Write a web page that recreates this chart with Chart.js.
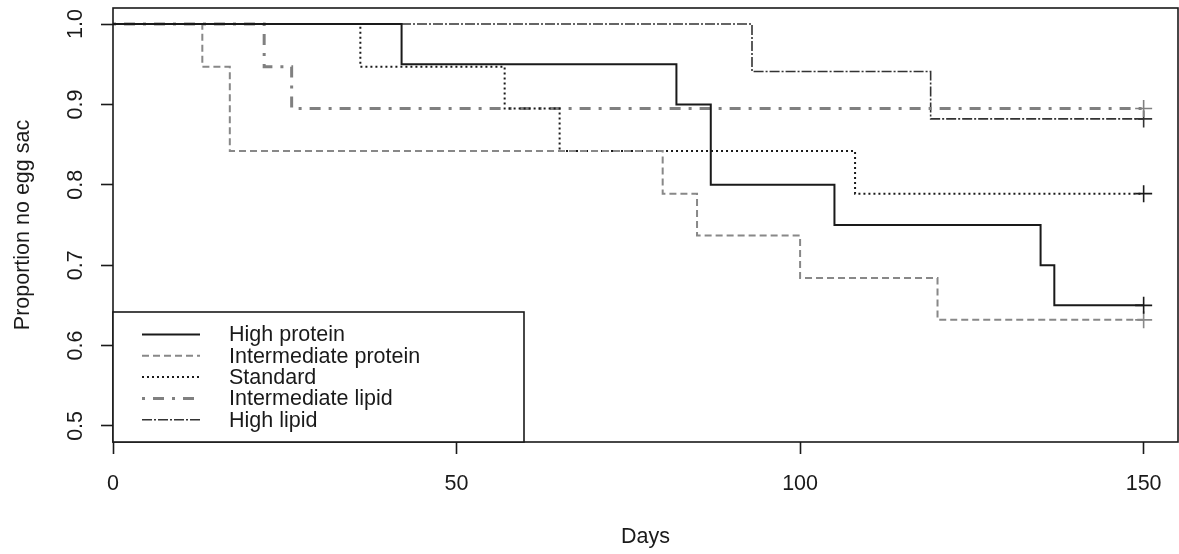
<!DOCTYPE html>
<html>
<head>
<meta charset="utf-8">
<script src="https://cdn.jsdelivr.net/npm/chart.js@4/dist/chart.umd.min.js"></script>
<style>
  html, body { margin: 0; padding: 0; background: #fff; }
  #wrap { width: 1179px; height: 554px; }
</style>
</head>
<body>
<div id="wrap"><canvas id="km" width="1179" height="554"></canvas></div>
<script>
// Kaplan-Meier steps (days, proportion with no egg sac)
const groupNames = ['High protein', 'Intermediate protein', 'Standard', 'Intermediate lipid', 'High lipid'];

const hpDays = [0, 42, 82, 87, 105, 135, 137, 150];
const hpSurv = [1, 0.95, 0.90, 0.80, 0.75, 0.70, 0.65, 0.65];

const ipDays = [0, 13, 17, 80, 85, 100, 120, 150];
const ipSurv = [1, 0.947, 0.842, 0.789, 0.737, 0.684, 0.632, 0.632];

const stDays = [0, 36, 57, 65, 108, 150];
const stSurv = [1, 0.947, 0.895, 0.842, 0.789, 0.789];

const ilDays = [0, 22, 26, 150];
const ilSurv = [1, 0.947, 0.895, 0.895];

const hlDays = [0, 93, 119, 150];
const hlSurv = [1, 0.941, 0.882, 0.882];

const xTicks = [0, 50, 100, 150];
const yTicks = [0.5, 0.6, 0.7, 0.8, 0.9, 1.0];

const FONT = '"Liberation Sans", Arial, sans-serif';
const FSIZE = 21.5;
const INK = '#1a1a1a';

function pts(days, surv) {
    return days.map((d, i) => ({ x: d, y: surv[i] }));
}

// censor mark (+) only on the last point
function censor(ctx) {
    return ctx.dataIndex === ctx.dataset.data.length - 1 ? 8.5 : 0;
}

function series(label, days, surv, color, dash, width) {
    return {
        label: label,
        data: pts(days, surv),
        stepped: true,
        borderColor: color,
        borderDash: dash,
        borderWidth: width,
        fill: false,
        pointStyle: 'cross',
        pointRadius: censor,
        pointHoverRadius: censor,
        pointBorderColor: color,
        pointBorderWidth: 1.6
    };
}

// box round the plot, rotated y labels and the legend
const rStyle = {
    id: 'rStyle',
    afterDatasetsDraw(chart) {
        const ctx = chart.ctx;
        const a = chart.chartArea;
        const ys = chart.scales.y;

        ctx.save();
        ctx.strokeStyle = INK;
        ctx.lineWidth = 1.6;
        ctx.strokeRect(a.left, a.top, a.right - a.left, a.bottom - a.top);

        // y tick labels, turned like base R
        ctx.fillStyle = INK;
        ctx.font = FSIZE + 'px ' + FONT;
        ctx.textAlign = 'center';
        ctx.textBaseline = 'middle';
        ys.ticks.forEach(t => {
            const py = ys.getPixelForValue(t.value);
            ctx.save();
            ctx.translate(76, py);
            ctx.rotate(-Math.PI / 2);
            ctx.fillText(t.value.toFixed(1), 0, 0);
            ctx.restore();
        });

        // legend in the bottom-left corner
        const bx = a.left, by = 312, bw = 411, bh = a.bottom - by;
        ctx.fillStyle = '#fff';
        ctx.fillRect(bx, by, bw, bh);
        ctx.strokeStyle = INK;
        ctx.lineWidth = 1.6;
        ctx.strokeRect(bx, by, bw, bh);

        ctx.textAlign = 'left';
        chart.data.datasets.forEach((ds, i) => {
            const ry = 334.5 + i * 21.3;
            ctx.save();
            ctx.strokeStyle = ds.borderColor;
            ctx.lineWidth = ds.borderWidth;
            ctx.setLineDash(ds.borderDash || []);
            ctx.beginPath();
            ctx.moveTo(142, ry);
            ctx.lineTo(200, ry);
            ctx.stroke();
            ctx.restore();
            ctx.fillStyle = INK;
            ctx.fillText(ds.label, 229, ry + 1);
        });
        ctx.restore();
    }
};

new Chart(document.getElementById('km'), {
    type: 'line',
    data: {
        datasets: [
            series(groupNames[0], hpDays, hpSurv, INK, [], 2),
            series(groupNames[1], ipDays, ipSurv, '#888888', [7, 4], 2),
            series(groupNames[2], stDays, stSurv, INK, [2, 3], 2),
            series(groupNames[3], ilDays, ilSurv, '#808080', [3, 8, 11, 8], 3),
            series(groupNames[4], hlDays, hlSurv, '#333333', [10, 2, 2, 2], 1.6)
        ]
    },
    options: {
        responsive: false,
        animation: false,
        events: [],
        layout: {
            autoPadding: false,
            padding: { top: 8, right: 1, left: 0, bottom: 0 }
        },
        plugins: {
            legend: { display: false },
            tooltip: { enabled: false }
        },
        scales: {
            x: {
                type: 'linear',
                min: 0,
                max: 155,
                afterBuildTicks: s => { s.ticks = xTicks.map(v => ({ value: v })); },
                afterFit: s => {
                    s.height = 112;
                    s.paddingLeft = 0;
                    s.paddingRight = 0;
                },
                border: { display: false },
                grid: {
                    drawOnChartArea: false,
                    drawTicks: true,
                    tickLength: 12,
                    tickColor: INK,
                    tickWidth: 1.6
                },
                ticks: {
                    color: INK,
                    font: { family: FONT, size: FSIZE },
                    padding: 17,
                    maxRotation: 0,
                    callback: v => String(v)
                },
                title: {
                    display: true,
                    text: 'Days',
                    color: INK,
                    font: { family: FONT, size: FSIZE },
                    padding: { top: -4 }
                }
            },
            y: {
                type: 'linear',
                min: 0.48,
                max: 1.02,
                afterBuildTicks: s => { s.ticks = yTicks.map(v => ({ value: v })); },
                afterFit: s => {
                    s.width = 113;
                    s.paddingTop = 0;
                    s.paddingBottom = 0;
                },
                border: { display: false },
                grid: {
                    drawOnChartArea: false,
                    drawTicks: true,
                    tickLength: 12,
                    tickColor: INK,
                    tickWidth: 1.6
                },
                ticks: { display: false },
                title: {
                    display: true,
                    text: 'Proportion no egg sac',
                    color: INK,
                    font: { family: FONT, size: FSIZE },
                    padding: { top: 10 }
                }
            }
        }
    },
    plugins: [rStyle]
});
</script>
</body>
</html>
